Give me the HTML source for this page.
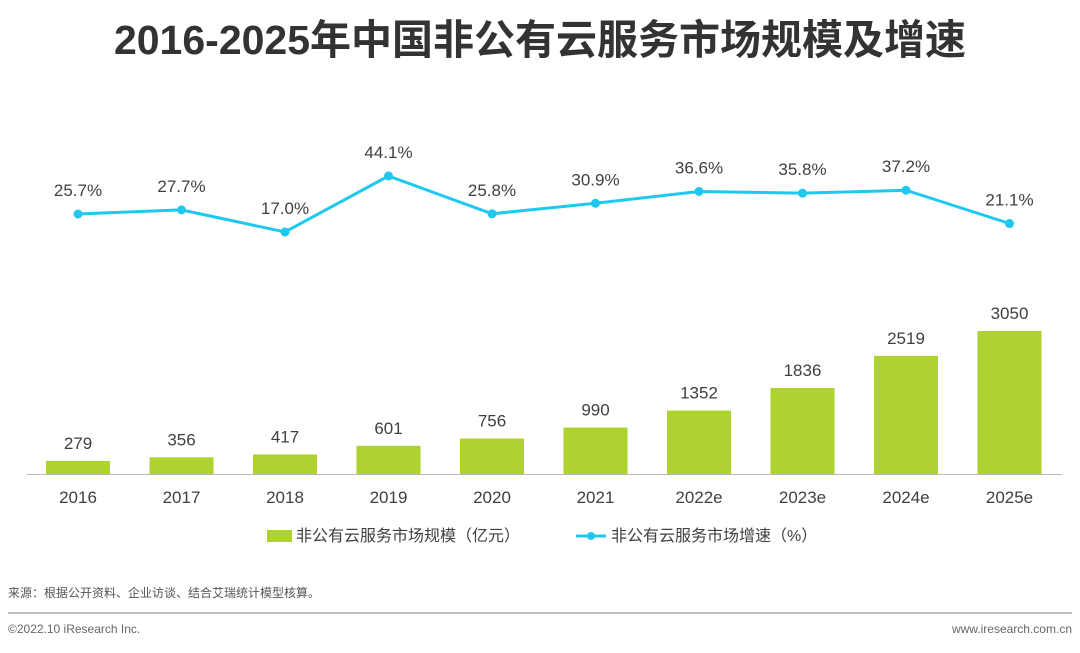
<!DOCTYPE html>
<html><head><meta charset="utf-8"><style>
body{margin:0;background:#fff;width:1080px;height:648px;overflow:hidden;font-family:"Liberation Sans","Noto Sans CJK SC",sans-serif;}
svg text{font-family:"Liberation Sans","Noto Sans CJK SC",sans-serif;}
</style></head><body>
<svg id="chart" width="1080" height="648">
<text x="540" y="54" text-anchor="middle" font-size="41" font-weight="bold" fill="#333">2016-2025年中国非公有云服务市场规模及增速</text>
<line x1="27" y1="474.5" x2="1062" y2="474.5" stroke="#bbb" stroke-width="1"/>
<g id="bars"></g><g id="line"></g>
<g>
<rect x="267" y="530" width="25" height="12" fill="#AED22F"/>
<text x="296" y="541" font-size="16" fill="#404040">非公有云服务市场规模（亿元）</text>
<line x1="576" y1="536" x2="606" y2="536" stroke="#1EC8EE" stroke-width="3"/>
<circle cx="591" cy="536" r="4" fill="#1EC8EE"/>
<text x="611" y="541" font-size="16" fill="#404040">非公有云服务市场增速（%）</text>
</g>
<text x="8" y="597" font-size="12" fill="#555">来源：根据公开资料、企业访谈、结合艾瑞统计模型核算。</text>
<line x1="8" y1="613" x2="1072" y2="613" stroke="#aaa" stroke-width="1.5"/>
<text x="8" y="633" font-size="12" fill="#666">©2022.10 iResearch Inc.</text>
<text x="1072" y="633" font-size="12" fill="#666" text-anchor="end">www.iresearch.com.cn</text>
</svg>
<script>
const categories=["2016","2017","2018","2019","2020","2021","2022e","2023e","2024e","2025e"];
const sizeValues=[279,356,417,601,756,990,1352,1836,2519,3050];
const growthValues=[25.7,27.7,17.0,44.1,25.8,30.9,36.6,35.8,37.2,21.1];
const NS="http://www.w3.org/2000/svg";
const xPos=i=>78+i*103.5;
const yBar=v=>474-v*0.0469;
const yLine=v=>267.1-v*2.066;
const bars=document.getElementById('bars'),line=document.getElementById('line');
function mk(t,a,p){const e=document.createElementNS(NS,t);for(const k in a)e.setAttribute(k,a[k]);p.appendChild(e);return e;}
categories.forEach((c,i)=>{
 const x=xPos(i),y=yBar(sizeValues[i]);
 const r=mk('rect',{x:x-32,y:y,width:64,height:474-y,fill:'#AED22F'},bars);
 
 
 const t=mk('text',{x:x,y:y-12,'text-anchor':'middle','font-size':17,fill:'#404040'},bars);t.textContent=sizeValues[i];
 
 
 const xl=mk('text',{x:x,y:503,'text-anchor':'middle','font-size':17,fill:'#404040'},bars);xl.textContent=c;
 
 
});
const pts=growthValues.map((v,i)=>xPos(i)+','+yLine(v)).join(' ');
const pl=mk('polyline',{points:pts,fill:'none',stroke:'#1EC8EE','stroke-width':3},line);


growthValues.forEach((v,i)=>{
 const x=xPos(i),y=yLine(v);
 const c=mk('circle',{cx:x,cy:y,r:4.5,fill:'#1EC8EE'},line);
 
 
 const t=mk('text',{x:x,y:y-18,'text-anchor':'middle','font-size':17,fill:'#404040'},line);t.textContent=v.toFixed(1)+'%';
 
 
});
</script>
</body></html>
